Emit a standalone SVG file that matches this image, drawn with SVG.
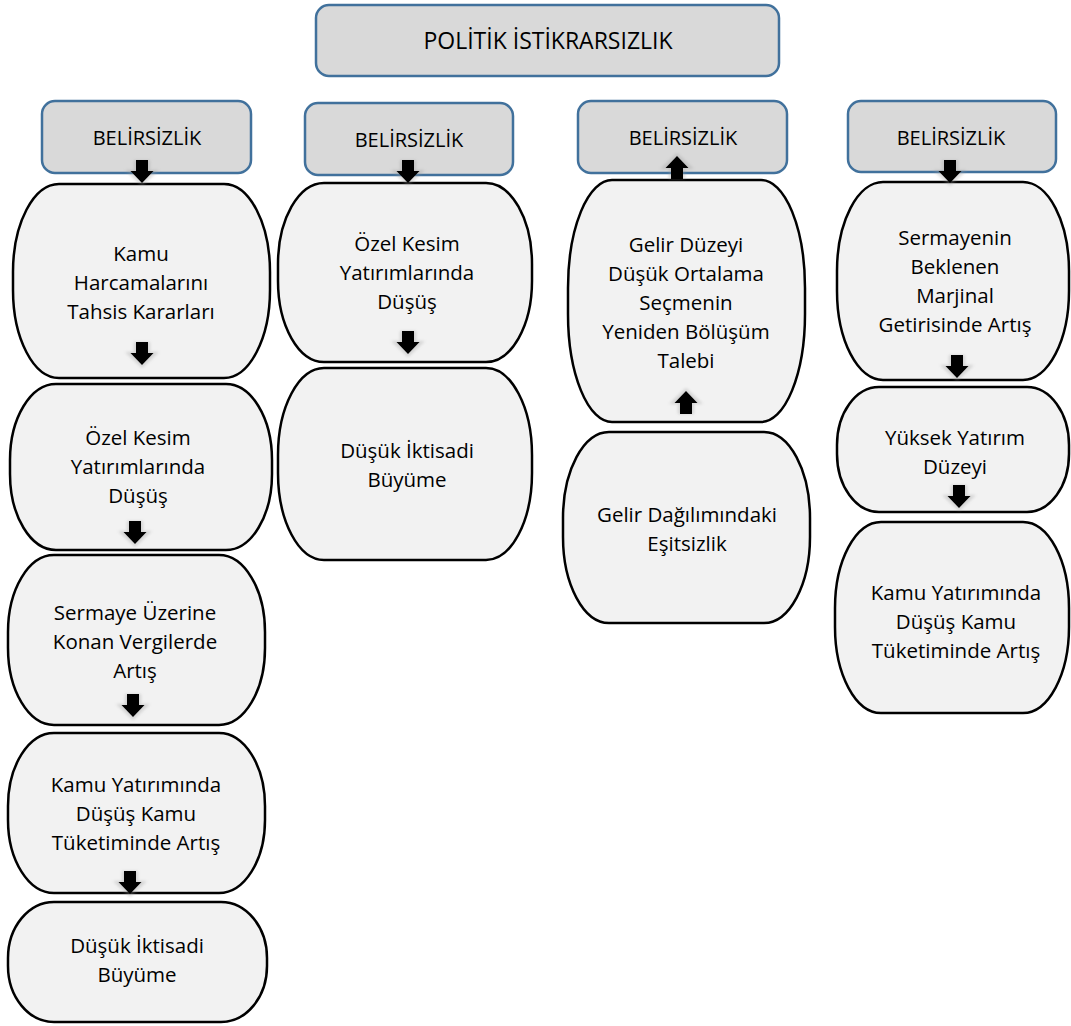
<svg xmlns="http://www.w3.org/2000/svg" width="1071" height="1026" viewBox="0 0 1071 1026">
<style>
  .hdr { fill: #d9d9d9; stroke: #41719c; stroke-width: 2.5; }
  .node { fill: #f2f2f2; stroke: #000; stroke-width: 2.5; }
  text { font-family: "Open Sans", "Liberation Sans", sans-serif; fill: #000; text-anchor: middle; }
  .t { font-size: 20.5px; }
  .h { font-size: 20px; }
  .title { font-size: 23px; }
  .arr { fill: #000; }
  .sh { fill: #9a9a9a; opacity: 0.35; filter: url(#blur); }
</style>
<defs>
  <filter id="blur" x="-50%" y="-50%" width="200%" height="200%">
    <feGaussianBlur stdDeviation="1.6"/>
  </filter>
  <g id="darrow">
    <polygon class="sh" points="-8,0 8,0 8,10 17,10 0,26 -17,10 -8,10"/>
    <polygon class="arr" points="-6,0 6,0 6,11 11.5,11 0,23 -11.5,11 -6,11"/>
  </g>
</defs>
<rect width="1071" height="1026" fill="#fff"/>

<g id="title">
  <rect class="hdr" x="316" y="5" width="463" height="71" rx="13"/>
  <text class="title" x="548" y="49">POLİTİK İSTİKRARSIZLIK</text>
</g>

<g id="belirsizlik1">
  <rect class="hdr" x="42" y="101" width="209" height="72" rx="13"/>
  <text class="h" x="147" y="145">BELİRSİZLİK</text>
</g>
<g id="belirsizlik2">
  <rect class="hdr" x="305" y="103" width="208" height="72" rx="13"/>
  <text class="h" x="409" y="147">BELİRSİZLİK</text>
</g>
<g id="belirsizlik3">
  <rect class="hdr" x="578" y="101" width="209" height="72" rx="13"/>
  <text class="h" x="683" y="145">BELİRSİZLİK</text>
</g>
<g id="belirsizlik4">
  <rect class="hdr" x="848" y="101" width="208" height="71" rx="13"/>
  <text class="h" x="951" y="145">BELİRSİZLİK</text>
</g>

<!-- Column 1 -->
<g id="c1n1">
  <rect class="node" x="13" y="184" width="257" height="194" rx="46" ry="88"/>
  <text class="t" x="141" y="261">Kamu</text>
  <text class="t" x="141" y="290">Harcamalarını</text>
  <text class="t" x="141" y="319">Tahsis Kararları</text>
</g>
<g id="c1n2">
  <rect class="node" x="10" y="384" width="262" height="166" rx="46" ry="76"/>
  <text class="t" x="138" y="445">Özel Kesim</text>
  <text class="t" x="138" y="474">Yatırımlarında</text>
  <text class="t" x="138" y="503">Düşüş</text>
</g>
<g id="c1n3">
  <rect class="node" x="8" y="555" width="257" height="170" rx="46" ry="77"/>
  <text class="t" x="135" y="620">Sermaye Üzerine</text>
  <text class="t" x="135" y="649">Konan Vergilerde</text>
  <text class="t" x="135" y="678">Artış</text>
</g>
<g id="c1n4">
  <rect class="node" x="8" y="733" width="257" height="160" rx="46" ry="73"/>
  <text class="t" x="136" y="792">Kamu Yatırımında</text>
  <text class="t" x="136" y="821">Düşüş Kamu</text>
  <text class="t" x="136" y="850">Tüketiminde Artış</text>
</g>
<g id="c1n5">
  <rect class="node" x="8" y="902" width="259" height="120" rx="46" ry="56"/>
  <text class="t" x="137" y="953">Düşük İktisadi</text>
  <text class="t" x="137" y="982">Büyüme</text>
</g>

<!-- Column 2 -->
<g id="c2n1">
  <rect class="node" x="278" y="183" width="254" height="179" rx="46" ry="81"/>
  <text class="t" x="407" y="251">Özel Kesim</text>
  <text class="t" x="407" y="280">Yatırımlarında</text>
  <text class="t" x="407" y="309">Düşüş</text>
</g>
<g id="c2n2">
  <rect class="node" x="278" y="368" width="254" height="192" rx="46" ry="87"/>
  <text class="t" x="407" y="458">Düşük İktisadi</text>
  <text class="t" x="407" y="487">Büyüme</text>
</g>

<!-- Column 3 -->
<g id="c3n1">
  <rect class="node" x="568" y="180" width="237" height="242" rx="44" ry="108"/>
  <text class="t" x="686" y="252">Gelir Düzeyi</text>
  <text class="t" x="686" y="281">Düşük Ortalama</text>
  <text class="t" x="686" y="310">Seçmenin</text>
  <text class="t" x="686" y="339">Yeniden Bölüşüm</text>
  <text class="t" x="686" y="368">Talebi</text>
</g>
<g id="c3n2">
  <rect class="node" x="563" y="432" width="247" height="191" rx="46" ry="86"/>
  <text class="t" x="687" y="522">Gelir Dağılımındaki</text>
  <text class="t" x="687" y="551">Eşitsizlik</text>
</g>

<!-- Column 4 -->
<g id="c4n1">
  <rect class="node" x="837" y="182" width="232" height="198" rx="46" ry="89"/>
  <text class="t" x="955" y="245">Sermayenin</text>
  <text class="t" x="955" y="274">Beklenen</text>
  <text class="t" x="955" y="303">Marjinal</text>
  <text class="t" x="955" y="332">Getirisinde Artış</text>
</g>
<g id="c4n2">
  <rect class="node" x="837" y="387" width="232" height="125" rx="42" ry="58"/>
  <text class="t" x="955" y="445">Yüksek Yatırım</text>
  <text class="t" x="955" y="474">Düzeyi</text>
</g>
<g id="c4n3">
  <rect class="node" x="835" y="522" width="234" height="191" rx="46" ry="86"/>
  <text class="t" x="956" y="600">Kamu Yatırımında</text>
  <text class="t" x="956" y="629">Düşüş Kamu</text>
  <text class="t" x="956" y="658">Tüketiminde Artış</text>
</g>

<g id="connectors">
  <use href="#darrow" transform="translate(142,160)"/>
  <use href="#darrow" transform="translate(142,342)"/>
  <use href="#darrow" transform="translate(135,521)"/>
  <use href="#darrow" transform="translate(133,694)"/>
  <use href="#darrow" transform="translate(130,871)"/>
  <use href="#darrow" transform="translate(408,160)"/>
  <use href="#darrow" transform="translate(408,331)"/>
  <use href="#darrow" transform="translate(677,179) scale(1,-1)"/>
  <use href="#darrow" transform="translate(686,414) scale(1,-1)"/>
  <use href="#darrow" transform="translate(950,160)"/>
  <use href="#darrow" transform="translate(957,355)"/>
  <use href="#darrow" transform="translate(959,485)"/>
</g>
</svg>
